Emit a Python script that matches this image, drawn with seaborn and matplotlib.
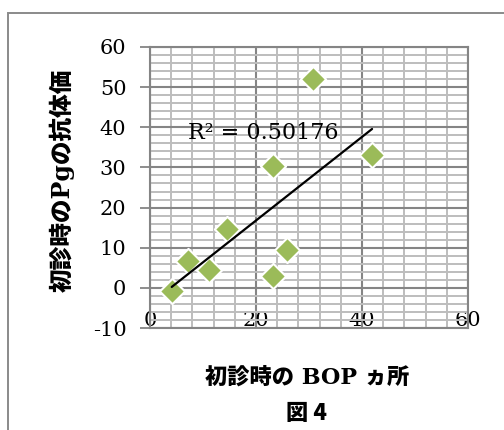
import matplotlib
matplotlib.use("Agg")
import matplotlib.pyplot as plt
from matplotlib.patches import Rectangle
from matplotlib.ticker import MultipleLocator
import numpy as np
import pandas as pd
import seaborn as sns

# 初診時の BOP ヵ所 vs 初診時の Pg 抗体価
bop_sites = [4.1, 7.2, 11.2, 14.6, 23.2, 23.2, 25.8, 30.7, 41.9]
pg_titer = [-0.7, 6.7, 4.4, 14.6, 3.0, 30.4, 9.4, 52.1, 33.1]
r2_label = "R² = 0.50176"
x_ticks = [0, 20, 40, 60]
y_ticks = [-10, 0, 10, 20, 30, 40, 50, 60]

df = pd.DataFrame({"bop": bop_sites, "pg": pg_titer})

sns.set_theme(style="white")
plt.rcParams["font.family"] = ["DejaVu Serif", "Noto Sans CJK JP"]
plt.rcParams["axes.unicode_minus"] = False

fig = plt.figure(figsize=(5.04, 4.30), dpi=100)
W, H = 504, 430

# outer chart frame
fig.patches.append(Rectangle((8 / W, -0.1), 1.2, (H - 13) / H + 0.1,
                             transform=fig.transFigure, fill=False,
                             edgecolor="#8a8a8a", linewidth=1.4))

ax = fig.add_axes([150 / W, (H - 328) / H, 318 / W, 281 / H])

grid_major = "#858585"
grid_minor = "#bdbdbd"

ax.set_xlim(0, 60)
ax.set_ylim(-10, 60)
ax.xaxis.set_major_locator(MultipleLocator(20))
ax.xaxis.set_minor_locator(MultipleLocator(4))
ax.yaxis.set_major_locator(MultipleLocator(10))
ax.yaxis.set_minor_locator(MultipleLocator(2))
ax.set_xticks(x_ticks)
ax.set_yticks(y_ticks)
ax.grid(which="minor", color=grid_minor, linewidth=1.4, zorder=0)
ax.grid(which="major", color=grid_major, linewidth=1.5, zorder=0)
ax.set_axisbelow(True)

sns.regplot(data=df, x="bop", y="pg", ax=ax, ci=None, scatter=False,
            truncate=True, line_kws={"color": "black", "linewidth": 1.6, "zorder": 3})
sns.scatterplot(data=df, x="bop", y="pg", ax=ax, marker="D", s=165,
                color="#9bbb59", edgecolor="white", linewidth=1.5, zorder=2)

ax.text(7.2, 38.5, r2_label, ha="left", va="center", fontsize=16,
        family="DejaVu Serif", color="black", zorder=4)

for s in ax.spines.values():
    s.set_color(grid_major)
    s.set_linewidth(1.5)

ax.tick_params(axis="y", which="major", direction="out", length=7, width=1.3,
               color=grid_major, pad=10, labelsize=15, left=True)
ax.tick_params(axis="x", which="major", direction="out", length=0,
               pad=-12, labelsize=15, bottom=True)
ax.tick_params(which="minor", length=0)
for lab in ax.get_xticklabels() + ax.get_yticklabels():
    lab.set_family("DejaVu Serif")
    lab.set_color("black")

ax.set_xlabel("")
ax.set_ylabel("")

heavy = ["DejaVu Serif", "Noto Sans CJK JP"]
fig.text(62 / W, 1 - 180 / H, "初診時のPgの抗体価", rotation=90,
         ha="center", va="center", fontsize=17, fontweight="black",
         family=heavy, color="black")
fig.text(307 / W, 1 - 378 / H, "初診時の BOP ヵ所", ha="center", va="center",
         fontsize=16, fontweight="black", family=heavy, color="black")
fig.text(306 / W, 1 - 413 / H, "図 4", ha="center", va="center",
         fontsize=16, fontweight="black", family=["Noto Sans CJK JP"],
         color="black")

fig.savefig("out.png", dpi=100)
